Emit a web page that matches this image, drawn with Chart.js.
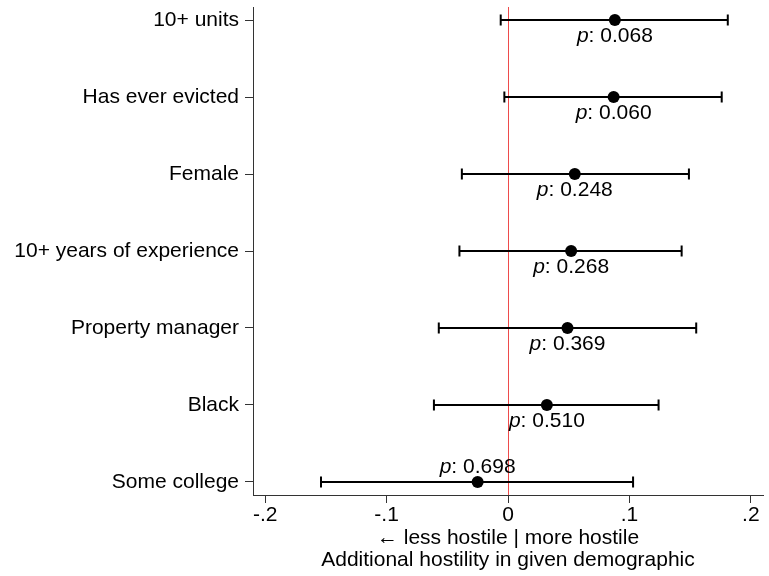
<!DOCTYPE html>
<html>
<head>
<meta charset="utf-8">
<script src="https://cdn.jsdelivr.net/npm/chart.js@4/dist/chart.umd.min.js"></script>
<style>
  html, body { margin: 0; padding: 0; background: #fff; }
  #c { display: block; }
</style>
</head>
<body>
<canvas id="c" width="769" height="576"></canvas>
<script>
const categories = ['10+ units', 'Has ever evicted', 'Female', '10+ years of experience', 'Property manager', 'Black', 'Some college'];
const estimates = [0.088, 0.087, 0.055, 0.052, 0.049, 0.032, -0.025];
const ciLow = [-0.006, -0.003, -0.038, -0.040, -0.057, -0.061, -0.154];
const ciHigh = [0.181, 0.176, 0.149, 0.143, 0.155, 0.124, 0.103];
const pValues = ['0.068', '0.060', '0.248', '0.268', '0.369', '0.510', '0.698'];
const pLabelAbove = [false, false, false, false, false, false, true];
const xTickValues = [-0.2, -0.1, 0, 0.1, 0.2];
const xTickLabels = ['-.2', '-.1', '0', '.1', '.2'];
const xTitle = ['\u2190 less hostile | more hostile', 'Additional hostility in given demographic'];

const FONT = "'Liberation Sans', Arial, Helvetica, sans-serif";
const FS = 21;
const n = categories.length;
const yPos = categories.map((_, i) => n - i);

const points = estimates.map((v, i) => ({ x: v, y: yPos[i] }));

function zeroPad(scale) {
  scale.paddingTop = 0;
  scale.paddingBottom = 0;
  scale.paddingLeft = 0;
  scale.paddingRight = 0;
}

const refLinePlugin = {
  id: 'refLine',
  beforeDatasetsDraw(chart) {
    const { ctx, chartArea, scales } = chart;
    const x0 = Math.round(scales.x.getPixelForValue(0)) + 0.5;
    ctx.save();
    ctx.strokeStyle = '#ee4b4b';
    ctx.lineWidth = 1;
    ctx.beginPath();
    ctx.moveTo(x0, chartArea.top);
    ctx.lineTo(x0, chartArea.bottom);
    ctx.stroke();
    ctx.strokeStyle = '#000';
    ctx.lineWidth = 2;
    for (let i = 0; i < n; i++) {
      const y = scales.y.getPixelForValue(yPos[i]);
      const xl = scales.x.getPixelForValue(ciLow[i]);
      const xh = scales.x.getPixelForValue(ciHigh[i]);
      ctx.beginPath();
      ctx.moveTo(xl, y); ctx.lineTo(xh, y);
      ctx.moveTo(xl, y - 5.5); ctx.lineTo(xl, y + 5.5);
      ctx.moveTo(xh, y - 5.5); ctx.lineTo(xh, y + 5.5);
      ctx.stroke();
    }
    ctx.restore();
  },
  afterDatasetsDraw(chart) {
    const { ctx, scales } = chart;
    ctx.save();
    ctx.fillStyle = '#000';
    ctx.textBaseline = 'middle';
    ctx.textAlign = 'left';
    const fItalic = 'italic ' + FS + 'px ' + FONT;
    const fNormal = FS + 'px ' + FONT;
    for (let i = 0; i < n; i++) {
      const cx = scales.x.getPixelForValue(estimates[i]);
      const cy = scales.y.getPixelForValue(yPos[i]) + (pLabelAbove[i] ? -15 : 16);
      ctx.font = fItalic;
      const w1 = ctx.measureText('p').width;
      ctx.font = fNormal;
      const rest = ': ' + pValues[i];
      const w2 = ctx.measureText(rest).width;
      const start = cx - (w1 + w2) / 2;
      ctx.font = fItalic;
      ctx.fillText('p', start, cy);
      ctx.font = fNormal;
      ctx.fillText(rest, start + w1, cy);
    }
    ctx.restore();
  }
};

new Chart(document.getElementById('c'), {
  type: 'scatter',
  data: {
    datasets: [{
      data: points,
      pointRadius: 6,
      pointHoverRadius: 6,
      pointBackgroundColor: '#000',
      pointBorderColor: '#000',
      pointBorderWidth: 0
    }]
  },
  options: {
    responsive: false,
    animation: false,
    events: [],
    layout: { padding: { top: 7, right: 2, left: 0, bottom: 0 } },
    plugins: { legend: { display: false }, tooltip: { enabled: false } },
    scales: {
      x: {
        type: 'linear',
        min: -0.21,
        max: 0.21,
        afterBuildTicks(scale) { scale.ticks = xTickValues.map(v => ({ value: v })); },
        afterFit(scale) { scale.height = 81; zeroPad(scale); },
        ticks: {
          color: '#000',
          font: { family: FONT, size: FS },
          padding: 0,
          maxRotation: 0,
          autoSkip: false,
          callback(value) {
            const idx = xTickValues.findIndex(v => Math.abs(v - value) < 1e-9);
            return idx >= 0 ? xTickLabels[idx] : '';
          }
        },
        grid: { drawOnChartArea: false, drawTicks: true, tickLength: 8, color: '#333', tickWidth: 1 },
        border: { display: true, color: '#333', width: 1 },
        title: {
          display: true,
          text: xTitle,
          color: '#000',
          font: { family: FONT, size: FS, lineHeight: 1.05 },
          padding: { top: 0, bottom: 5 }
        }
      },
      y: {
        type: 'linear',
        min: 0.83,
        max: 7.17,
        afterBuildTicks(scale) { scale.ticks = yPos.map(v => ({ value: v })); },
        afterFit(scale) { scale.width = 253; zeroPad(scale); },
        ticks: {
          color: '#000',
          font: { family: FONT, size: FS },
          padding: 6,
          autoSkip: false,
          callback(value) {
            const idx = yPos.indexOf(value);
            return idx >= 0 ? categories[idx] : '';
          }
        },
        grid: { drawOnChartArea: false, drawTicks: true, tickLength: 8, color: '#333', tickWidth: 1 },
        border: { display: true, color: '#333', width: 1 }
      }
    }
  },
  plugins: [refLinePlugin]
});
</script>
</body>
</html>
